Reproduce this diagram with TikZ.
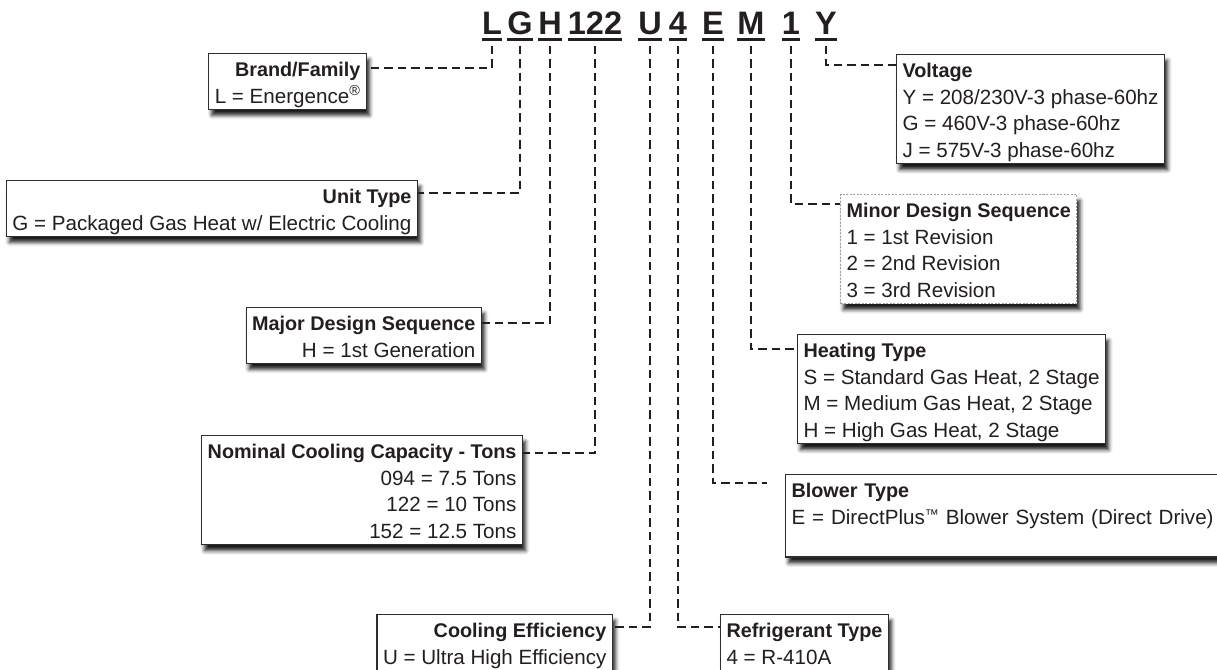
\documentclass[tikz,border=0pt]{standalone}
\usepackage{fontspec}
\setmainfont{Liberation Sans}
\usepackage{tikz}
\usepackage{xcolor}
\usetikzlibrary{positioning,calc,shadows,shadows.blur}

\definecolor{ink}{HTML}{231F20}
\definecolor{rim}{HTML}{2E2E2E}

\tikzset{
  code/.style={font=\fontsize{32.5}{32}\selectfont\bfseries, text=ink, inner sep=0pt, text depth=4.5pt, anchor=base},
  uline/.style={ink, line width=2.5pt},
  link/.style={ink, line width=2.4pt, dash pattern=on 8.5pt off 5pt, shorten <=6pt},
  infobox/.style={draw=rim, line width=1.1pt, fill=white, inner xsep=6pt, inner ysep=0pt,
    text=ink, font=\fontsize{20.6}{26.7}\selectfont,
    blur shadow={shadow xshift=3pt, shadow yshift=-6pt, shadow blur radius=4pt, shadow opacity=90}},
  lbox/.style={infobox, anchor=north east, align=right},
  rbox/.style={infobox, anchor=north west, align=left},
  dotbox/.style={rbox, draw=gray!75, line width=1pt, dash pattern=on 2pt off 1.5pt},
}
\newcommand{\boxhead}[1]{\rule{0pt}{23pt}\textbf{\fontsize{19.8}{26.7}\selectfont #1}}
\newcommand{\boxend}{\rule[-6pt]{0pt}{6pt}}
\newcommand{\smalltm}{{\fontsize{14}{14}\selectfont\raisebox{4.5pt}{™}}}

\begin{document}
\begin{tikzpicture}[x=1pt, y=-1pt]
    \useasboundingbox (0,0) rectangle (1217,669);

    % Model number segments
    \foreach \n/\t/\x in {cL/L/492, cG/G/520, cH/H/550, cN/122/595, cU/U/650, c4/4/678, cE/E/713, cM/M/751, c1/1/791, cY/Y/826} {
        \node[code] (\n) at (\x,35) {\t};
        \draw[uline] (\n.south west) -- (\n.south east);
    }

    % Boxes (left)
    \node[lbox] (brand) at (367,53)
        {\boxhead{Brand/Family}\\ L = Energence\textsuperscript{®}\boxend};
    \node[lbox] (unit) at (418,180)
        {\boxhead{Unit Type}\\ G = Packaged Gas Heat w/ Electric Cooling\boxend};
    \node[lbox] (major) at (482,307)
        {\boxhead{Major Design Sequence}\\ H = 1st Generation\boxend};
    \node[lbox] (nominal) at (523,435)
        {\boxhead{Nominal Cooling Capacity - Tons}\\ 094 = 7.5 Tons\\ 122 = 10 Tons\\ 152 = 12.5 Tons\boxend};
    \node[lbox] (cooling) at (613,614)
        {\boxhead{Cooling Efficiency}\\ U = Ultra High Efficiency\boxend};

    % Boxes (right)
    \node[rbox] (refrig) at (720,614)
        {\boxhead{Refrigerant Type}\\ 4 = R-410A\boxend};
    \node[rbox, text width=440pt] (blower) at (785,474)
        {\boxhead{Blower Type}\\ E = DirectPlus\smalltm{} Blower System (Direct Drive)\\ \boxend};
    \node[rbox] (heating) at (797,334)
        {\boxhead{Heating Type}\\ S = Standard Gas Heat, 2 Stage\\ M = Medium Gas Heat, 2 Stage\\ H = High Gas Heat, 2 Stage\boxend};
    \node[dotbox] (minor) at (840,194)
        {\boxhead{Minor Design Sequence}\\ 1 = 1st Revision\\ 2 = 2nd Revision\\ 3 = 3rd Revision\boxend};
    \node[rbox] (voltage) at (896,54)
        {\boxhead{Voltage}\\ Y = 208/230V-3 phase-60hz\\ G = 460V-3 phase-60hz\\ J = 575V-3 phase-60hz\boxend};

    % Leaders
    \foreach \c/\b/\d in {cL/brand/15pt, cG/unit/13pt, cH/major/16pt, cN/nominal/18pt, cU/cooling/13pt} {
        \draw[link] (\c.south) |- ([yshift=-\d]\b.north east);
    }
    \foreach \c/\b/\d in {c4/refrig/13pt, cM/heating/15pt, c1/minor/10pt, cY/voltage/11pt} {
        \draw[link] (\c.south) |- ([yshift=-\d]\b.north west);
    }
    \draw[link, shorten >=18pt] (cE.south) |- ([yshift=-9pt]blower.north west);
\end{tikzpicture}
\end{document}
